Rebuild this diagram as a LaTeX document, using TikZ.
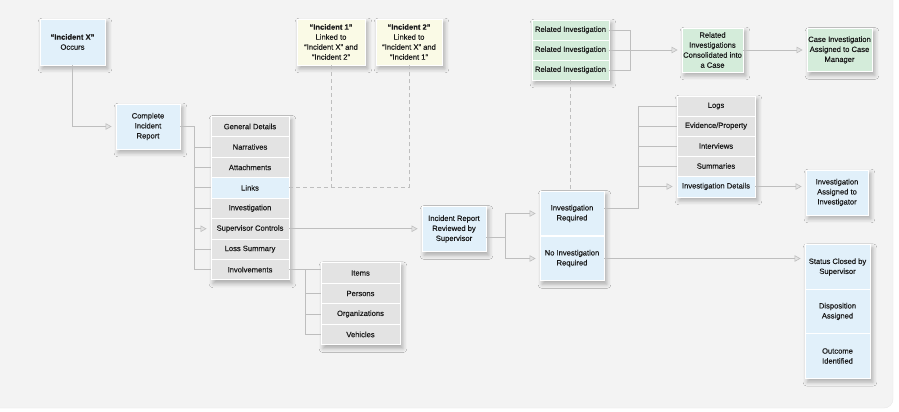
\documentclass[tikz,border=0pt]{standalone}
\usepackage{fontspec}
\setmainfont{Liberation Sans}
\usetikzlibrary{arrows.meta,shadows.blur,backgrounds}
\definecolor{bluef}{HTML}{E1F0FA}
\definecolor{grayf}{HTML}{E3E3E3}
\definecolor{greenf}{HTML}{D4ECDA}
\definecolor{yellowf}{HTML}{FAFAE6}
\definecolor{linec}{HTML}{BEBEBE}
\definecolor{panelc}{HTML}{F3F3F3}
\definecolor{txt}{HTML}{1A1A1A}
\begin{document}
\begin{tikzpicture}[x=1pt,y=-1pt,
  box/.style={rectangle, draw=white, line width=0.9pt, align=center, inner sep=0.5pt, text=txt,
    font=\fontsize{7.6}{10}\selectfont\addfontfeature{FakeBold=0.3}},
  bluebox/.style={box, fill=bluef},
  greenbox/.style={box, fill=greenf},
  yellowbox/.style={box, fill=yellowf},
  cell/.style={box, fill=grayf, minimum height=20.4pt},
  conn/.style={draw=linec, line width=0.8pt},
  arr/.style={conn, -{Triangle[length=6pt,width=6.5pt,fill=gray!22,color=linec,line width=0.6pt]}, shorten >=4pt},
  dashconn/.style={draw=linec, line width=0.8pt, dash pattern=on 4pt off 3pt},
  grpshadow/.style={blur shadow={shadow xshift=2.5pt, shadow yshift=-3.5pt, shadow blur radius=4pt, shadow opacity=28}}
]
\useasboundingbox (0,0) rectangle (899,412);
\begin{scope}[on background layer]
\fill[white] (0,0) rectangle (899,412);
\draw[fill=panelc, draw=gray!18, rounded corners=9pt] (-12,-12) rectangle (893,408);
\end{scope}

% left part
\node[bluebox, minimum width=65pt, minimum height=46pt] (incx) at (72.5,42) {\textbf{``Incident X''}\\Occurs};
\node[bluebox, minimum width=64pt, minimum height=45pt] (cir) at (148,126.5) {Complete\\Incident\\Report};

\node[cell, minimum width=78pt] (gd)   at (250,126.5)  {General Details};
\node[cell, minimum width=78pt] (nar)  at (250,146.95) {Narratives};
\node[cell, minimum width=78pt] (att)  at (250,167.4)  {Attachments};
\node[cell, minimum width=78pt, fill=bluef] (lnk) at (250,187.85) {Links};
\node[cell, minimum width=78pt] (inv)  at (250,208.3)  {Investigation};
\node[cell, minimum width=78pt] (sup)  at (250,228.75) {Supervisor Controls};
\node[cell, minimum width=78pt] (loss) at (250,249.2)  {Loss Summary};
\node[cell, minimum width=78pt] (invl) at (250,269.65) {Involvements};

\node[cell, minimum width=79pt] (items) at (360.5,273)   {Items};
\node[cell, minimum width=79pt] (pers)  at (360.5,293.5) {Persons};
\node[cell, minimum width=79pt] (orgs)  at (360.5,314)   {Organizations};
\node[cell, minimum width=79pt] (veh)   at (360.5,334.5) {Vehicles};

\node[yellowbox, minimum width=68pt, minimum height=46pt] (inc1) at (331,42) {\textbf{``Incident 1''}\\Linked to\\``Incident X'' and\\``Incident 2''};
\node[yellowbox, minimum width=66pt, minimum height=46pt] (inc2) at (409,42) {\textbf{``Incident 2''}\\Linked to\\``Incident X'' and\\``Incident 1''};

% middle
\node[bluebox, minimum width=64pt, minimum height=45pt] (rev) at (454,229) {Incident Report\\Reviewed by\\Supervisor};
\node[bluebox, minimum width=64pt, minimum height=44pt] (ir)  at (572,213.5) {Investigation\\Required};
\node[bluebox, minimum width=64pt, minimum height=44pt] (nir) at (572,258.5) {No Investigation\\Required};

\node[greenbox, minimum width=77pt, minimum height=20pt] (rel1) at (570.5,30) {Related Investigation};
\node[greenbox, minimum width=77pt, minimum height=20pt] (rel2) at (570.5,50) {Related Investigation};
\node[greenbox, minimum width=77pt, minimum height=20pt] (rel3) at (570.5,70) {Related Investigation};
\node[greenbox, minimum width=61pt, minimum height=44pt] (cons) at (712.5,50) {Related\\Investigations\\Consolidated into\\a Case};
\node[greenbox, minimum width=65pt, minimum height=43pt] (case) at (839.5,50) {Case Investigation\\Assigned to Case\\Manager};

% right
\node[cell, minimum width=78pt, minimum height=20pt] (logs) at (716,106)   {Logs};
\node[cell, minimum width=78pt, minimum height=20pt] (evid) at (716,126)   {Evidence/Property};
\node[cell, minimum width=78pt, minimum height=20pt] (intv) at (716,146)   {Interviews};
\node[cell, minimum width=78pt, minimum height=20pt] (summ) at (716,166)   {Summaries};
\node[cell, minimum width=78pt, minimum height=21pt, fill=bluef] (invd) at (716,186.5) {Investigation Details};
\node[bluebox, minimum width=62pt, minimum height=45pt] (iai) at (837,192.5) {Investigation\\Assigned to\\Investigator};

\node[bluebox, minimum width=65pt, minimum height=44.5pt] (stc)  at (837.5,267)   {Status Closed by\\Supervisor};
\node[bluebox, minimum width=65pt, minimum height=44.5pt] (disp) at (837.5,311.5) {Disposition\\Assigned};
\node[bluebox, minimum width=65pt, minimum height=44.5pt] (outc) at (837.5,356)   {Outcome\\Identified};

% group shadows
\begin{scope}[on background layer]
\foreach \a/\b in {incx/incx, cir/cir, gd/invl, items/veh, inc1/inc1, inc2/inc2, rev/rev, ir/nir, rel1/rel3, cons/cons, case/case, logs/invd, iai/iai, stc/outc}
  \path[grpshadow] (\a.north west) rectangle (\b.south east);
\end{scope}

% bracket coordinates
\coordinate (b1) at (194,0);
\coordinate (b2) at (305,0);
\coordinate (b3) at (505,0);
\coordinate (b4) at (638,0);
\coordinate (b5) at (630,0);
\coordinate (revout) at ([yshift=-8pt]rev.east);
\coordinate (irout) at ([yshift=5pt]ir.east);

% connectors
\draw[arr] (incx.south) |- (cir.west);
\draw[conn] (cir.east) -| (b1 |- invl.west) -- (invl.west);
\foreach \n in {nar,att,lnk,inv,loss} \draw[conn] (b1 |- \n.west) -- (\n.west);
\draw[arr] (b1 |- sup.west) -- (sup.west);

\draw[conn] (invl.east) -- (invl.east -| items.west);
\draw[conn] (b2 |- invl.east) -- (b2 |- veh.west) -- (veh.west);
\draw[conn] (b2 |- pers.west) -- (pers.west);
\draw[conn] (b2 |- orgs.west) -- (orgs.west);

\draw[dashconn] (lnk.east) -- (inc2.south |- lnk.east) -- (inc2.south);
\draw[dashconn] (inc1.south) -- (inc1.south |- lnk.east);

\draw[arr] (sup.east) -- (sup.east -| rev.west);
\draw[conn] (revout) -- (b3 |- revout);
\draw[conn] (b3 |- ir.west) -- (b3 |- nir.west);
\draw[arr] (b3 |- ir.west) -- (ir.west);
\draw[arr] (b3 |- nir.west) -- (nir.west);

\draw[conn] (irout) -| (b4 |- logs.west) -- (logs.west);
\foreach \n in {evid,intv,summ} \draw[conn] (b4 |- \n.west) -- (\n.west);
\draw[arr] (b4 |- invd.west) -- (invd.west);
\draw[arr] (invd.east) -- (invd.east -| iai.west);

\draw[arr] (nir.east) -- (nir.east -| stc.west);

\draw[conn] (rel1.east) -| (b5 |- rel3.east) -- (rel3.east);
\draw[arr] (rel2.east) -- (cons.west);
\draw[arr] (cons.east) -- (case.west);
\draw[dashconn] (rel3.south) -- (rel3.south |- ir.north);
\end{tikzpicture}
\end{document}
